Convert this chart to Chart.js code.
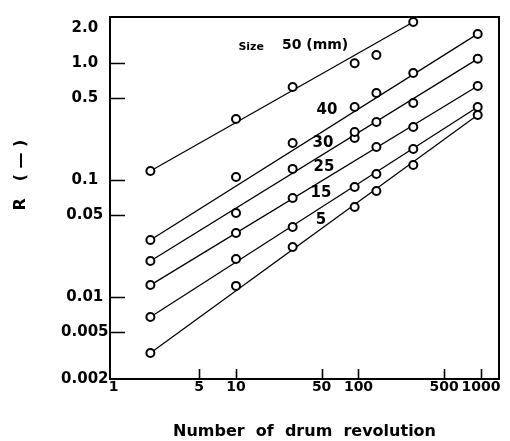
<!DOCTYPE html>
<html>
<head>
<meta charset="utf-8">
<script src="https://cdn.jsdelivr.net/npm/chart.js@4/dist/chart.umd.min.js"></script>
<style>
  html, body { margin: 0; background: #fff; }
  #wrap { width: 510px; height: 441px; }
</style>
</head>
<body>
<div id="wrap"><canvas id="chart"></canvas></div>
<script>
// Drum test: fraction R against drum revolutions, one series per lump size (mm)
const sizes = ['50', '40', '30', '25', '15', '5'];
const revolutions = [2, 10, 29, 93, 140, 280, 940];

const r50 = [0.12, 0.333, 0.627, 1.0, 1.175, 2.25, null];
const r40 = [0.0308, 0.1065, 0.208, 0.422, 0.556, 0.825, 1.78];
const r30 = [0.0204, 0.0525, 0.125, 0.258, 0.314, 0.457, 1.09];
const r25 = [0.0127, 0.0354, 0.0705, null, 0.192, 0.285, 0.639];
const r15 = [0.00677, 0.0212, 0.0398, 0.0875, 0.113, 0.185, 0.422];
const r5 = [0.00334, 0.0125, 0.0269, 0.059, 0.0809, 0.135, 0.361];

// second 30 mm reading at 93 rev, just under the first one
const r30Repeat = [null, null, null, 0.2295, null, null, null];

const xTickValues = [1, 5, 10, 50, 100, 500, 1000];
const xTickLabels = ['1', '5', '10', '50', '100', '500', '1000'];
const yTickValues = [2, 1, 0.5, 0.1, 0.05, 0.01, 0.005, 0.002];
const yTickLabels = ['2.0', '1.0', '0.5', '0.1', '0.05', '0.01', '0.005', '0.002'];

const series = [r50, r40, r30, r25, r15, r5];

const toPoints = vals =>
    revolutions
        .map((x, i) => ({ x, y: vals[i] }))
        .filter(p => p.y != null);

// straight trend line from the first reading to the last one
const trendOf = vals => {
    const pts = toPoints(vals);
    return [pts[0], pts[pts.length - 1]];
};

const markerStyle = {
    showLine: false,
    pointRadius: 4,
    pointBorderWidth: 2,
    pointBorderColor: '#000',
    pointBackgroundColor: '#fff',
    order: 0
};

const datasets = [
    ...series.map((vals, k) => ({ label: sizes[k] + ' mm', data: toPoints(vals), ...markerStyle })),
    { label: sizes[2] + ' mm (repeat)', data: toPoints(r30Repeat), ...markerStyle },
    ...series.map((vals, k) => ({
        label: sizes[k] + ' mm trend',
        data: trendOf(vals),
        showLine: true,
        pointRadius: 0,
        borderColor: '#000',
        borderWidth: 1.3,
        order: 1
    }))
];

// box round the plot, inward tick marks, size tags and the R axis title
const decorPlugin = {
    id: 'decor',
    afterDraw(chart) {
        const { ctx, chartArea: a, scales: { x, y } } = chart;
        ctx.save();
        ctx.strokeStyle = '#000';
        ctx.lineWidth = 2;
        ctx.strokeRect(a.left, a.top, a.right - a.left, a.bottom - a.top);

        ctx.lineWidth = 1.6;
        ctx.beginPath();
        yTickValues.slice(1, -1).forEach(v => {
            const py = Math.round(y.getPixelForValue(v)) + 0.5;
            ctx.moveTo(a.left, py);
            ctx.lineTo(a.left + 15, py);
        });
        xTickValues.slice(1).forEach(v => {
            const px = Math.round(x.getPixelForValue(v)) + 0.5;
            ctx.moveTo(px, a.bottom);
            ctx.lineTo(px, a.bottom - 10);
        });
        ctx.stroke();

        ctx.fillStyle = '#000';
        ctx.textAlign = 'center';
        ctx.textBaseline = 'middle';

        // size tags next to the lines
        ctx.font = 'bold 11px "DejaVu Sans"';
        ctx.fillText('Size', x.getPixelForValue(13.3), y.getPixelForValue(1.36));
        ctx.font = 'bold 14px "DejaVu Sans"';
        ctx.fillText(sizes[0] + ' (mm)', x.getPixelForValue(44.2), y.getPixelForValue(1.43));
        const tagAt = [[55.3, 0.398], [51.3, 0.208], [52.3, 0.13], [49.4, 0.0778], [49.4, 0.0457]];
        ctx.font = 'bold 15px "DejaVu Sans"';
        tagAt.forEach(([vx, vy], k) => {
            ctx.fillText(sizes[k + 1], x.getPixelForValue(vx), y.getPixelForValue(vy));
        });

        // vertical axis title
        ctx.translate(25, 175);
        ctx.rotate(-Math.PI / 2);
        ctx.textBaseline = 'alphabetic';
        ctx.font = 'bold 16px "DejaVu Sans"';
        ctx.fillText('R   ( \u2014 )', 0, 0);
        ctx.restore();
    }
};

Chart.defaults.font.family = '"DejaVu Sans", sans-serif';
Chart.defaults.font.weight = 'bold';
Chart.defaults.color = '#000';

new Chart(document.getElementById('chart'), {
    type: 'scatter',
    data: { datasets },
    options: {
        responsive: true,
        maintainAspectRatio: false,
        animation: false,
        layout: { padding: { top: 17, right: 11, left: 0, bottom: 0 } },
        plugins: { legend: { display: false }, tooltip: { enabled: false } },
        scales: {
            x: {
                type: 'logarithmic',
                min: 0.936,
                max: 1403,
                grid: { display: false, drawTicks: false },
                border: { display: false },
                afterBuildTicks: s => { s.ticks = xTickValues.map(value => ({ value })); },
                afterFit: s => { s.height = 62; },
                ticks: {
                    autoSkip: false,
                    maxRotation: 0,
                    padding: 0,
                    font: { size: 14 },
                    callback: v => xTickLabels[xTickValues.indexOf(v)]
                },
                title: {
                    display: true,
                    text: 'Number  of  drum  revolution',
                    font: { size: 16 },
                    padding: { top: 0, bottom: 0 }
                }
            },
            y: {
                type: 'logarithmic',
                min: 0.002,
                max: 2.483,
                grid: { display: false, drawTicks: false },
                border: { display: false },
                afterBuildTicks: s => { s.ticks = yTickValues.map(value => ({ value })); },
                afterFit: s => { s.width = 110; },
                ticks: {
                    autoSkip: false,
                    padding: 1.5,
                    crossAlign: 'center',
                    font: { size: 15 },
                    callback: v => yTickLabels[yTickValues.indexOf(v)]
                }
            }
        }
    },
    plugins: [decorPlugin]
});
</script>
</body>
</html>
